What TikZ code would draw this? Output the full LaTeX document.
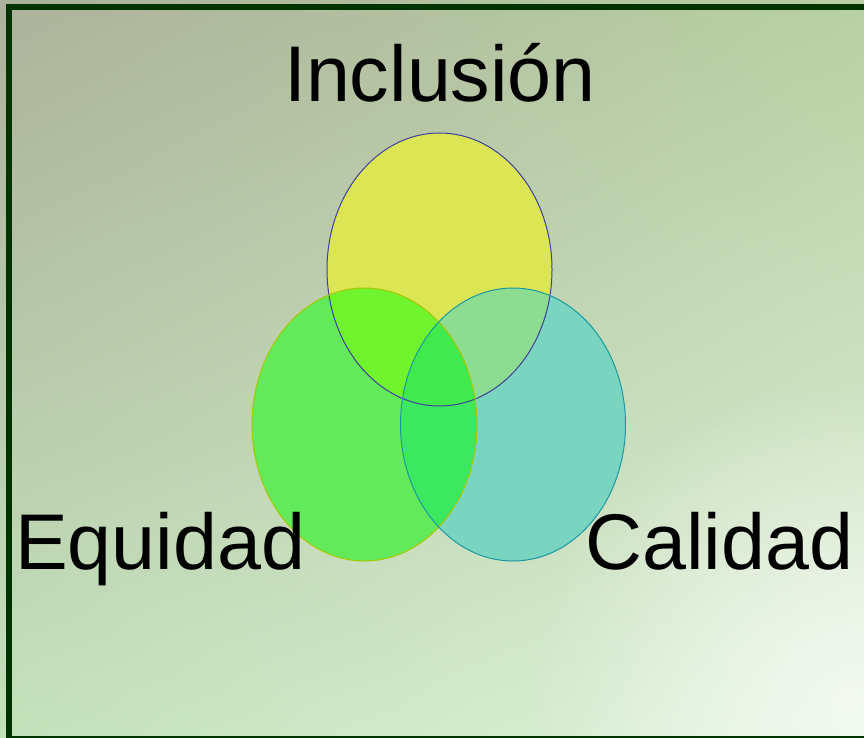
\documentclass[tikz,border=0pt]{standalone}
\usepackage{fontspec}
\setmainfont{Liberation Sans}
\usetikzlibrary{shadings,fadings}
\definecolor{bgUL}{HTML}{ACB19B}
\definecolor{bgUR}{HTML}{B8D0A2}
\definecolor{bgLL}{HTML}{C4E2BA}
\definecolor{bgLR}{HTML}{E0F2DC}
\definecolor{frame}{HTML}{003300}
\definecolor{cY}{HTML}{DCE655}
\definecolor{cG}{HTML}{62EA5A}
\definecolor{cT}{HTML}{7AD5C0}
\definecolor{cYG}{HTML}{6FF42E}
\definecolor{cYT}{HTML}{8CDC92}
\definecolor{cGT}{HTML}{3CE860}
\definecolor{cYGT}{HTML}{40EA4C}
\definecolor{sY}{HTML}{40409A}
\definecolor{sG}{HTML}{A8C800}
\definecolor{sT}{HTML}{1A9AA0}
\tikzfading[name=softglow, inner color=transparent!35, outer color=transparent!100]
\tikzset{
  lbl/.style={inner sep=0pt, font=\fontsize{79}{79}\selectfont, text=black},
  ell/.style={x radius=112.5pt, y radius=136.5pt},
}
\begin{document}
\begin{tikzpicture}[x=1pt,y=-1pt]
\useasboundingbox (0,0) rectangle (864,738);
\shade[upper left=bgUL, upper right=bgUR, lower left=bgLL, lower right=bgLR] (0,0) rectangle (864,738);
\fill[white, path fading=softglow] (850,700) circle (320);
\draw[line width=6pt, color=frame] (9,7) rectangle (867,739);
\coordinate (Y) at (439.5,269.5);
\coordinate (G) at (364.5,424.5);
\coordinate (T) at (513,424.5);
% base fills
\fill[cY] (Y) ellipse[ell];
\fill[cG] (G) ellipse[ell];
\fill[cT] (T) ellipse[ell];
% pairwise overlaps
\begin{scope}
  \clip (Y) ellipse[ell];
  \fill[cYG] (G) ellipse[ell];
  \fill[cYT] (T) ellipse[ell];
\end{scope}
\begin{scope}
  \clip (G) ellipse[ell];
  \fill[cGT] (T) ellipse[ell];
  \clip (T) ellipse[ell];
  \fill[cYGT] (Y) ellipse[ell];
\end{scope}
% outlines
\draw[sY, line width=1pt] (Y) ellipse[ell];
\draw[sG, line width=1pt] (G) ellipse[ell];
\draw[sT, line width=1pt] (T) ellipse[ell];
% labels
\node[lbl, anchor=base] (inc) at (440,102) {Inclusión};
\node[lbl, anchor=base west] (equ) at (15,569) {Equidad};
\node[lbl, anchor=base west] (cal) at (585,569) {Calidad};
\end{tikzpicture}
\end{document}
